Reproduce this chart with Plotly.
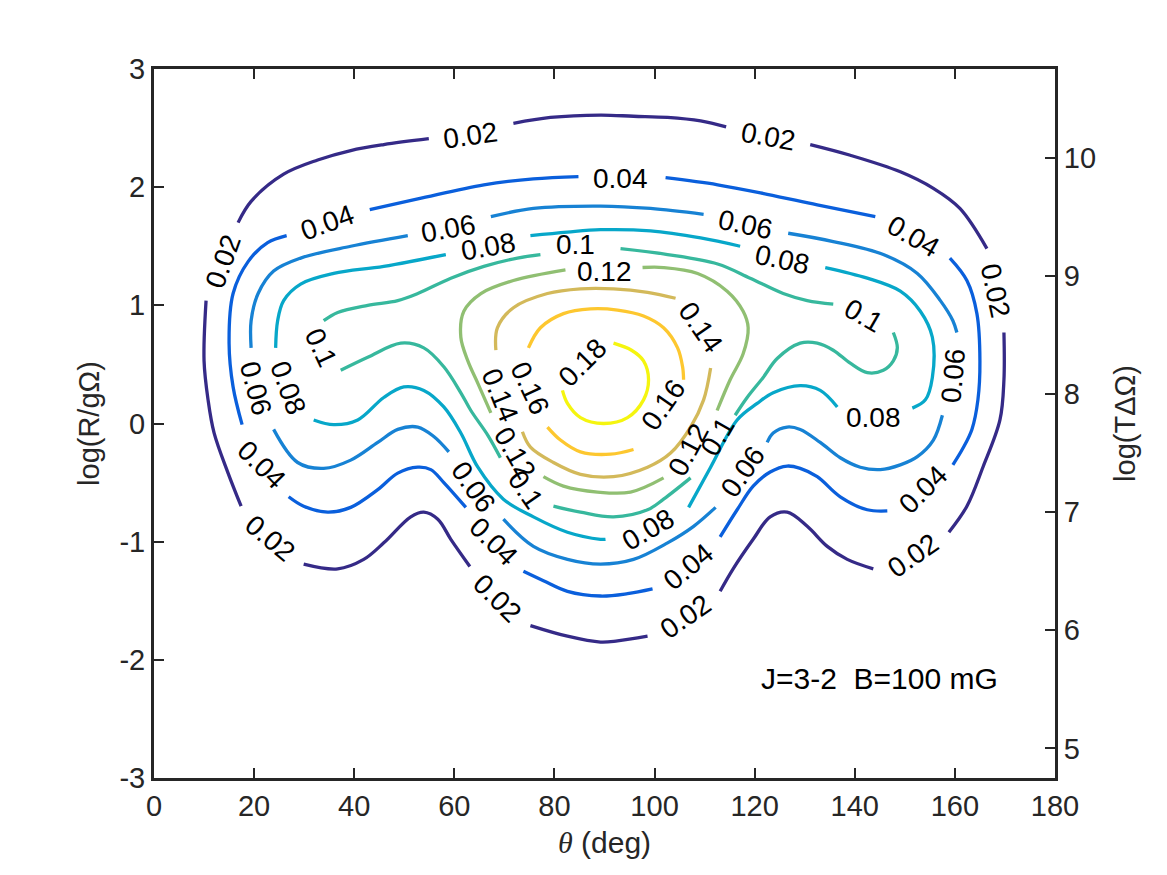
import plotly.graph_objects as go

# contour levels and parula-like colours
levels = ["0.02", "0.04", "0.06", "0.08", "0.1", "0.12", "0.14", "0.16", "0.18"]
level_colors = ["#352A87", "#0A5FDC", "#1782D4", "#07A7C9", "#37B89D",
                "#90BF72", "#D3B95A", "#FDC72F", "#F5F50F"]

# contour paths (theta in deg, log(R/gOmega)); None = gap for label
c002_theta = [29.9, 36.7, 41.9, 45.9, 51.3, 53.9, 56.7, 59.3, 63.1, None,
              75.2, 82.6, 89.2, 92.6, 98.6, None,
              113.1, 115.7, 119.7, 123.1, 126.5, 130.5, 134.5, 138.5, 143.7, None,
              158.8, 162.4, 165.6, 169.0, 169.8, 169.8, None,
              166.4, 161.0, 155.7, 149.1, 139.1, 131.1, None,
              114.3, 109.2, 102.6, 95.8, 89.2, 79.2, 71.8, None,
              54.9, 45.9, 39.3, 32.7, 25.9, 19.4, 16.8, None,
              10.4, 10.0, 10.8, 12.0, 14.8, 17.4]
c002_logr = [-1.19, -1.23, -1.15, -1.01, -0.79, -0.75, -0.81, -0.98, -1.21, None,
             -1.71, -1.80, -1.85, -1.84, -1.80, None,
             -1.42, -1.23, -0.98, -0.79, -0.75, -0.87, -1.04, -1.15, -1.23, None,
             -0.92, -0.70, -0.37, 0.03, 0.37, 0.77, None,
             1.48, 1.82, 1.99, 2.13, 2.27, 2.36, None,
             2.51, 2.56, 2.59, 2.60, 2.61, 2.59, 2.54, None,
             2.41, 2.36, 2.31, 2.23, 2.11, 1.88, 1.70, None,
             1.04, 0.53, 0.20, -0.08, -0.42, -0.70]

c004_theta = [26.9, 29.9, 34.7, 39.3, 44.7, 48.7, 52.7, 55.3, 57.9, 62.3, None,
              73.8, 77.8, 82.6, 89.2, 94.6, 99.6, None,
              113.1, 116.5, 119.7, 123.1, 126.5, 129.1, 132.5, 137.1, 142.5, 146.5, None,
              159.6, 161.6, 163.4, 164.6, 165.0, 164.4, 162.4, 159.0, None,
              144.1, 132.5, 122.5, 112.6, 102.2, None,
              84.8, 75.8, 65.9, 52.7, 43.1, None,
              26.5, 22.7, 18.8, 15.8, 15.0, 15.8, 17.6]
c004_logr = [-0.62, -0.70, -0.75, -0.71, -0.56, -0.42, -0.37, -0.39, -0.50, -0.71, None,
             -1.25, -1.33, -1.42, -1.46, -1.44, -1.40, None,
             -0.96, -0.73, -0.53, -0.41, -0.36, -0.38, -0.45, -0.62, -0.73, -0.74, None,
             -0.35, -0.21, -0.05, 0.20, 0.53, 0.93, 1.21, 1.40, None,
             1.75, 1.85, 1.94, 2.02, 2.08, None,
             2.09, 2.07, 2.02, 1.90, 1.81, None,
             1.59, 1.53, 1.37, 1.10, 0.68, 0.31, -0.01]

c006_theta = [23.9, 28.7, 33.9, 39.3, 44.7, 48.7, 52.7, 55.9, 58.9, None,
              69.8, 75.8, 82.6, 89.2, 95.8, 102.6, 107.8, 112.2, None,
              122.5, 123.7, 126.5, 129.1, 133.1, 137.1, 141.1, 145.1, 149.1, 152.5, 155.7, 157.5, None,
              160.4, 159.6, 157.1, 152.5, 145.7, 135.7, 126.7, None,
              109.8, 99.2, 89.2, 75.8, 67.3, None,
              50.7, 39.3, 29.3, 23.9, 20.8, 19.4, 19.4]
c006_logr = [-0.05, -0.33, -0.38, -0.31, -0.16, -0.05, -0.03, -0.11, -0.24, None,
             -0.81, -1.04, -1.15, -1.19, -1.15, -1.01, -0.87, -0.71, None,
             -0.16, -0.08, -0.03, -0.05, -0.16, -0.29, -0.37, -0.39, -0.35, -0.28, -0.14, 0.07, None,
             0.77, 0.87, 1.04, 1.27, 1.43, 1.54, 1.61, None,
             1.77, 1.82, 1.84, 1.82, 1.75, None,
             1.59, 1.50, 1.40, 1.29, 1.10, 0.87, 0.64]

c008_theta = [31.9, 35.9, 40.7, 45.9, 49.9, 53.9, 57.9, 61.3, 64.7, 69.8, 75.8, 82.6, 89.2, 90.2, None,
              106.8, 111.2, 116.5, 120.5, 123.7, 129.1, 133.1, 136.5, None,
              151.5, 154.1, 155.5, 155.5, 153.1, 149.1, 142.5, 134.1, None,
              117.1, 109.2, 99.2, 89.2, 82.6, 75.2, None,
              58.3, 45.9, 35.9, 29.3, 25.9, 24.7, 24.3]
c008_logr = [0.03, -0.01, 0.03, 0.22, 0.31, 0.28, 0.14, -0.08, -0.37, -0.64, -0.79, -0.92, -0.98, -0.98, None,
             -0.71, -0.37, 0.03, 0.17, 0.26, 0.32, 0.28, 0.14, None,
             0.13, 0.20, 0.39, 0.73, 0.95, 1.12, 1.23, 1.32, None,
             1.50, 1.57, 1.63, 1.64, 1.62, 1.59, None,
             1.43, 1.33, 1.27, 1.18, 1.04, 0.87, 0.64]

c010_theta = [37.3, 42.7, 49.3, 53.9, 57.9, 61.3, 63.3, 66.7, 69.2, None,
              79.8, 85.2, 91.8, 98.6, 101.8, 107.2, None,
              116.1, 118.5, 121.7, 124.5, 129.1, 132.5, 135.7, 139.1, 142.5, 145.7, 147.7, 148.5, 147.7, None,
              135.7, 130.5, 125.7, 119.1, 112.6, 102.6, 93.2, None,
              77.2, 72.6, 65.9, 59.3, 52.7, 48.7, 42.7, 36.7, 33.9]
c010_logr = [0.45, 0.56, 0.68, 0.64, 0.48, 0.26, 0.11, -0.10, -0.29, None,
             -0.70, -0.75, -0.79, -0.73, -0.64, -0.46, None,
             0.07, 0.22, 0.39, 0.55, 0.68, 0.68, 0.62, 0.51, 0.43, 0.45, 0.53, 0.64, 0.77, None,
             1.01, 1.04, 1.10, 1.23, 1.35, 1.43, 1.48, None,
             1.43, 1.40, 1.33, 1.23, 1.10, 1.04, 1.00, 0.94, 0.87]

c012_theta = [97.6, 101.8, 108.6, 114.5, 117.7, 118.7, 117.7, 115.1, 112.5, None,
              101.8, 95.2, 88.6, 81.8, 77.8, None,
              67.3, 64.7, 62.7, 61.3, 61.9, 65.3, 71.8, 82.2]
c012_logr = [1.32, 1.32, 1.27, 1.12, 0.95, 0.81, 0.59, 0.37, 0.11, None,
             -0.46, -0.58, -0.58, -0.53, -0.45, None,
             0.09, 0.34, 0.53, 0.73, 0.95, 1.10, 1.21, 1.30]

c014_theta = [68.3, 68.6, 71.8, 78.6, 85.2, 91.8, 98.6, 104.2, None,
              111.2, 109.8, 107.2, 103.2, 98.6, 91.8, 85.2, 79.8, 75.2, 73.6]
c014_logr = [0.62, 0.81, 0.98, 1.10, 1.14, 1.14, 1.11, 1.06, None,
             0.47, 0.20, -0.03, -0.25, -0.37, -0.45, -0.43, -0.33, -0.20, -0.07]

c016_theta = [74.8, 77.2, 81.8, 87.2, 92.6, 97.8, 101.8, 104.6, 105.6, 105.8, None,
              95.8, 91.2, 85.2, 81.2, 78.6]
c016_logr = [0.64, 0.81, 0.93, 0.97, 0.96, 0.91, 0.81, 0.64, 0.48, 0.37, None,
             -0.22, -0.26, -0.24, -0.14, -0.03]

c018_theta = [91.8, 95.4, 97.8, 98.8, 97.8, 94.6, 89.8, 85.2, 82.6, 81.6]
c018_logr = [0.68, 0.62, 0.53, 0.37, 0.20, 0.05, 0.00, 0.05, 0.17, 0.28]

paths_theta = [c002_theta, c004_theta, c006_theta, c008_theta, c010_theta,
               c012_theta, c014_theta, c016_theta, c018_theta]
paths_logr = [c002_logr, c004_logr, c006_logr, c008_logr, c010_logr,
              c012_logr, c014_logr, c016_logr, c018_logr]

# inline contour labels
label_text = ["0.02", "0.02", "0.02", "0.02", "0.02", "0.02", "0.02", "0.02",
              "0.04", "0.04", "0.04", "0.04", "0.04", "0.04", "0.04",
              "0.06", "0.06", "0.06", "0.06", "0.06", "0.06",
              "0.08", "0.08", "0.08", "0.08", "0.08",
              "0.1", "0.1", "0.1", "0.1", "0.1",
              "0.12", "0.12", "0.12",
              "0.14", "0.14",
              "0.16", "0.16",
              "0.18"]
label_theta = [63.3, 122.7, 168.2, 13.8, 23.3, 68.6, 106.2, 151.7,
               34.7, 93.2, 151.7, 153.7, 106.8, 67.8, 21.4,
               58.9, 118.1, 159.6, 117.7, 63.9, 20.4,
               66.9, 125.5, 143.7, 98.8, 26.9,
               84.2, 141.7, 112.6, 74.2, 33.3,
               90.0, 106.8, 72.2,
               109.2, 69.2,
               101.8, 75.2,
               85.6]
label_logr = [2.44, 2.43, 1.12, 1.37, -0.97, -1.48, -1.63, -1.12,
              1.70, 2.07, 1.58, -0.56, -1.21, -1.00, -0.35,
              1.65, 1.68, 0.41, -0.41, -0.54, 0.30,
              1.50, 1.39, 0.05, -0.90, 0.30,
              1.515, 0.91, -0.11, -0.56, 0.64,
              1.285, -0.22, -0.25,
              0.81, 0.24,
              0.16, 0.30,
              0.52]
label_angle = [-8, 10, 78, -70, 40, 45, -35, -35,
               -20, 0, 30, -45, -40, 45, 45,
               -10, 12, -85, -55, 55, 75,
               -10, 12, 0, -30, 70,
               0, 30, -60, 55, 65,
               0, -62, 60,
               55, 68,
               -55, 65,
               -45]

x_ticks = [0, 20, 40, 60, 80, 100, 120, 140, 160, 180]
y_ticks = [-3, -2, -1, 0, 1, 2, 3]
y_tick_text = ["-3", "-2", "-1", "0", "1", "2", "3"]
right_ticks = [5, 6, 7, 8, 9, 10]

FONT = "Liberation Sans, Arial, Helvetica, sans-serif"
INK = "#262626"

fig = go.Figure()
for lev, col, xs, ys in zip(levels, level_colors, paths_theta, paths_logr):
    fig.add_trace(go.Scatter(x=xs, y=ys, mode="lines", name=lev,
                             line=dict(color=col, width=3.3, shape="spline", smoothing=1.0),
                             connectgaps=False, hoverinfo="skip", showlegend=False))

# invisible trace to activate the right axis
fig.add_trace(go.Scatter(x=[90], y=[8], yaxis="y2", mode="markers",
                         marker=dict(opacity=0), hoverinfo="skip", showlegend=False))

annotations = []
for t, x, y, a in zip(label_text, label_theta, label_logr, label_angle):
    annotations.append(dict(x=x, y=y, xref="x", yref="y", text=t, textangle=a,
                            showarrow=False, font=dict(family=FONT, size=28, color="black"),
                            xanchor="center", yanchor="middle"))
annotations.append(dict(x=120.8, y=-2.16, xref="x", yref="y", text="J=3-2&nbsp;&nbsp;B=100 mG",
                        showarrow=False, xanchor="left", yanchor="middle",
                        font=dict(family=FONT, size=30, color="black")))

fig.update_layout(
    width=1167, height=875,
    margin=dict(l=146, r=120, t=61, b=105),
    paper_bgcolor="white", plot_bgcolor="white",
    font=dict(family=FONT, size=29, color=INK),
    xaxis=dict(range=[0, 180], tickvals=x_ticks,
               ticks="inside", ticklen=10, tickwidth=2, tickcolor=INK,
               showline=True, linewidth=3, linecolor=INK, mirror="ticks",
               showgrid=False, zeroline=False,
               title=dict(text="<span style=\"font-family:Liberation Serif\"><i>θ</i></span> (deg)",
                          font=dict(size=30, color=INK), standoff=12),
               tickfont=dict(size=29, color=INK)),
    yaxis=dict(range=[-3, 3], tickvals=y_ticks, ticktext=y_tick_text,
               ticks="inside", ticklen=10, tickwidth=2, tickcolor=INK,
               showline=True, linewidth=3, linecolor=INK, mirror=False,
               showgrid=False, zeroline=False,
               title=dict(text="log(R/gΩ)", font=dict(size=29, color=INK), standoff=12),
               tickfont=dict(size=29, color=INK)),
    yaxis2=dict(range=[4.75, 10.75], tickvals=right_ticks, overlaying="y", side="right",
                ticks="inside", ticklen=10, tickwidth=2, tickcolor=INK,
                showline=True, linewidth=3, linecolor=INK,
                showgrid=False, zeroline=False,
                title=dict(text="log(TΔΩ)", font=dict(size=29, color=INK), standoff=20),
                tickfont=dict(size=29, color=INK)),
    annotations=annotations,
)

fig.write_html("out.html")
